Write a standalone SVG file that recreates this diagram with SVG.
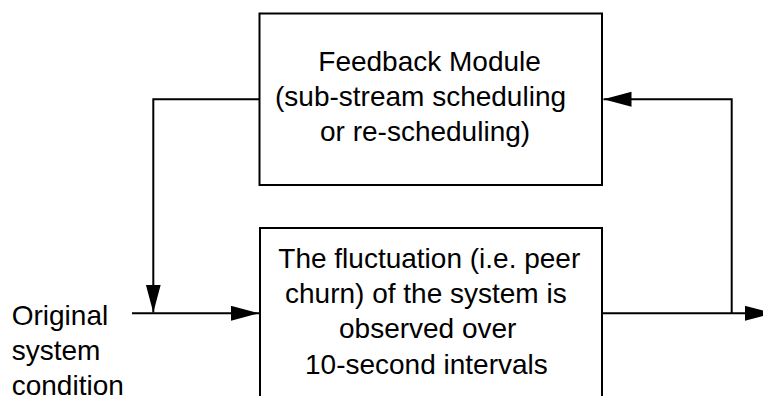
<svg xmlns="http://www.w3.org/2000/svg" width="763" height="396" viewBox="0 0 763 396">
<style>
.box{fill:#fff;stroke:#000;stroke-width:2}
.t{font-family:"Liberation Sans",Arial,sans-serif;font-size:28px;fill:#000}
.c{fill:none;stroke:#000;stroke-width:2}
</style>
<defs>
<marker id="ah" markerUnits="userSpaceOnUse" markerWidth="29" markerHeight="16" refX="28" refY="7.5" orient="auto">
<path d="M0,0 L28,7.5 L0,15 z" fill="#000"/>
</marker>
</defs>
<rect width="763" height="396" fill="#fff"/>
<g id="connectors">
<path class="c" d="M132,313.3 H259" marker-end="url(#ah)"/>
<path class="c" d="M259,99.3 H153.3 V312.5" marker-end="url(#ah)"/>
<path class="c" d="M602,313.3 H773" marker-end="url(#ah)"/>
<path class="c" d="M731.7,313.3 V99.3 H603.5" marker-end="url(#ah)"/>
</g>
<g id="feedback">
<rect class="box" x="259.5" y="13.5" width="342.5" height="171.5"/>
<text class="t" x="318.3" y="70.7">Feedback Module</text>
<text class="t" x="275" y="106">(sub-stream scheduling</text>
<text class="t" x="320" y="140.5">or re-scheduling)</text>
</g>
<g id="observe">
<rect class="box" x="260" y="228" width="342" height="200"/>
<text class="t" x="278.3" y="268.3">The fluctuation (i.e. peer</text>
<text class="t" x="285" y="303.3">churn) of the system is</text>
<text class="t" x="339" y="338.3">observed over</text>
<text class="t" x="305" y="374">10-second intervals</text>
</g>
<g id="input">
<text class="t" x="11.7" y="325">Original</text>
<text class="t" x="11.7" y="360">system</text>
<text class="t" x="11.7" y="395">condition</text>
</g>
</svg>
